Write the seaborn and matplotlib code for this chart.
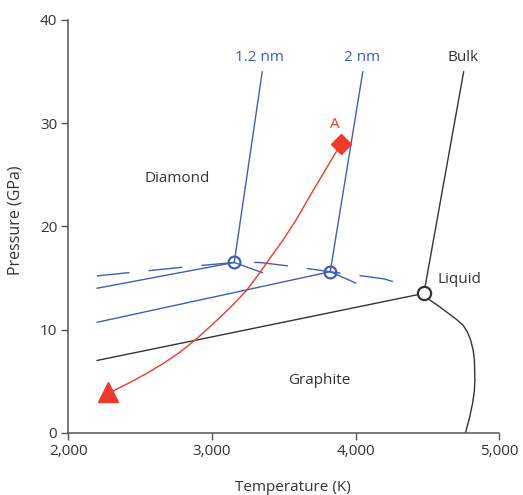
import matplotlib
matplotlib.use("Agg")
import matplotlib.pyplot as plt
import seaborn as sns
import numpy as np

# ---- data ----
bulk_gd_T = [2200, 4475]
bulk_gd_P = [7.0, 13.5]
bulk_dl_T = [4475, 4752]
bulk_dl_P = [13.5, 35.0]
bulk_gl_T = [4475, 4512, 4575, 4633, 4700, 4749, 4780, 4800, 4818, 4827, 4830, 4826, 4814, 4795, 4765]
bulk_gl_P = [13.5, 12.9, 12.3, 11.7, 11.0, 10.4, 9.7, 9.0, 8.0, 7.0, 5.1, 4.0, 2.85, 1.6, 0.0]
bulk_tp = (4475, 13.5)

nm2_gd_T = [2200, 3823]
nm2_gd_P = [10.7, 15.6]
nm2_dl_T = [3823, 4050]
nm2_dl_P = [15.6, 35.0]
nm2_gl_T = [3823, 4002]
nm2_gl_P = [15.6, 14.5]
nm2_tp = (3823, 15.6)

nm12_gd_T = [2200, 3155]
nm12_gd_P = [14.0, 16.5]
nm12_dl_T = [3155, 3350]
nm12_dl_P = [16.5, 35.0]
nm12_gl_T = [3155, 3353]
nm12_gl_P = [16.5, 15.5]
nm12_tp = (3155, 16.5)

dash_T = [2200, 2450, 2820, 3155, 3330, 3570, 3823, 4070, 4200, 4305]
dash_P = [15.2, 15.55, 16.07, 16.5, 16.5, 16.1, 15.6, 15.15, 14.9, 14.45]

path_T = [3898, 3821, 3705, 3589, 3496, 3408, 3330, 3241, 3150, 3050, 2960, 2893, 2777, 2660, 2546, 2420, 2313, 2277]
path_P = [28.0, 26.2, 23.5, 20.7, 18.7, 17.0, 15.45, 13.8, 12.45, 11.1, 9.95, 9.1, 7.8, 6.7, 5.75, 4.8, 4.05, 3.9]
point_A = (3898, 28.0)
point_end = (2277, 3.9)

xticks = [2000, 3000, 4000, 5000]
xtick_labels = ["2,000", "3,000", "4,000", "5,000"]
yticks = [0, 10, 20, 30, 40]

BLUE = "#3f5fb7"
RED = "#ee3a2c"
DARK = "#333333"

sns.set_style("ticks")
plt.rcParams["font.family"] = ["Open Sans", "DejaVu Sans"]

fig = plt.figure(figsize=(5.23, 4.95), dpi=100)
ax = fig.add_axes([0.1306, 0.1259, 0.8241, 0.8337])

def line(T, P, color, lw=1.0, **kw):
    sns.lineplot(x=T, y=P, sort=False, estimator=None, color=color, lw=lw, ax=ax, **kw)

line(bulk_gd_T, bulk_gd_P, DARK)
line(bulk_dl_T, bulk_dl_P, DARK)
line(bulk_gl_T, bulk_gl_P, DARK)
line(nm2_gd_T, nm2_gd_P, BLUE)
line(nm2_dl_T, nm2_dl_P, BLUE)
line(nm2_gl_T, nm2_gl_P, BLUE)
line(nm12_gd_T, nm12_gd_P, BLUE)
line(nm12_dl_T, nm12_dl_P, BLUE)
line(nm12_gl_T, nm12_gl_P, BLUE)
line(dash_T, dash_P, BLUE, linestyle=(1, (24.5, 13.7)))
line(path_T, path_P, RED)

ax.plot([nm12_tp[0], nm2_tp[0]], [nm12_tp[1], nm2_tp[1]], "o", ms=8.5,
        mfc="none", mec=BLUE, mew=1.6, zorder=5)
ax.plot([bulk_tp[0]], [bulk_tp[1]], "o", ms=9.5, mfc="white", mec=DARK, mew=1.6, zorder=5)
ax.plot([point_A[0]], [point_A[1]], "D", ms=10.5, color=RED, mec=RED, zorder=6)
ax.plot([point_end[0]], [point_end[1]], "^", ms=14, color=RED, mec=RED, zorder=6)

fs = 11
ax.text(2756, 24.65, "Diamond", ha="center", va="center", fontsize=fs, color=DARK)
ax.text(3747, 5.1, "Graphite", ha="center", va="center", fontsize=fs, color=DARK)
ax.text(4721, 14.85, "Liquid", ha="center", va="center", fontsize=fs, color=DARK)
ax.text(4745, 36.4, "Bulk", ha="center", va="center", fontsize=fs, color=DARK)
ax.text(4042, 36.4, "2 nm", ha="center", va="center", fontsize=fs, color=BLUE)
ax.text(3327, 36.4, "1.2 nm", ha="center", va="center", fontsize=fs, color=BLUE)
ax.text(3856, 29.9, "A", ha="center", va="center", fontsize=fs, color=RED)

ax.set_xlim(2000, 5000)
ax.set_ylim(0, 40)
ax.set_xticks(xticks)
ax.set_xticklabels(xtick_labels)
ax.set_yticks(yticks)
ax.tick_params(axis="both", length=5, width=1, color="#555555", labelsize=fs,
               labelcolor=DARK, pad=3)
for s in ["top", "right"]:
    ax.spines[s].set_visible(False)
for s in ["left", "bottom"]:
    ax.spines[s].set_color("#555555")
    ax.spines[s].set_linewidth(1.1)

ax.set_xlabel("Temperature (K)", fontsize=fs, color=DARK, va="bottom")
ax.xaxis.set_label_coords(0.52, -0.150)
ax.set_ylabel("Pressure (GPa)", fontsize=11.5, color=DARK)
ax.yaxis.set_label_coords(-0.105, 0.515)

fig.savefig("out.png", dpi=100)
